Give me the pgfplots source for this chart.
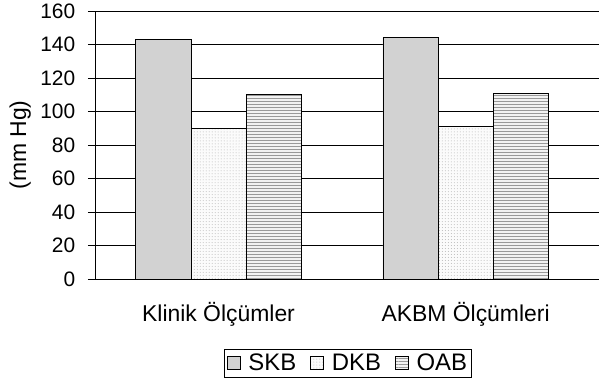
\documentclass[border=0pt]{standalone}
\usepackage{pgfplots}
\pgfplotsset{compat=1.18}
\usepackage{fontspec}
\setmainfont{Liberation Sans}
\usetikzlibrary{patterns}
\begin{document}
\fontsize{23}{27}\selectfont
\begin{tikzpicture}
\begin{axis}[
  scale only axis,
  width=504bp, height=268bp,
  ybar=0pt,
  bar width=0.223,
  xmin=-0.5, xmax=1.54,
  ymin=0, ymax=160,
  ytick={0,20,...,160},
  xtick={0,1},
  xticklabels={Klinik Ölçümler, AKBM Ölçümleri},
  major x tick style={draw=none},
  extra x ticks={-0.5,0.5},
  extra x tick labels={},
  extra x tick style={major tick length=7bp, tick align=outside, tick style={line width=0.9pt, black}},
  axis x line*=bottom,
  axis y line*=left,
  axis line style={line width=1pt, black},
  ymajorgrids,
  grid style={line width=0.9pt, black},
  tick align=outside,
  major tick length=7bp,
  ytick style={line width=0.9pt, black},
  yticklabel style={font=\fontsize{21}{25}\selectfont, xshift=-5bp},
  xticklabel style={font=\fontsize{23}{27}\selectfont, yshift=-8bp},
  /pgf/number format/assume math mode=true,
  ylabel={(mm Hg)},
  ylabel style={font=\fontsize{23}{27}\selectfont, yshift=-6bp},
  legend style={at={(0.502,-0.316)}, anchor=center, legend columns=3, draw=black, line width=0.8pt, font=\fontsize{24}{28}\selectfont, inner sep=2pt,
    /tikz/every odd column/.append style={column sep=6bp},
    /tikz/every even column/.append style={column sep=12bp}},
  legend image code/.code={\draw[#1, line width=0.6pt] (0bp,-6bp) rectangle (13bp,7bp);},
]
\addplot[draw=black, line width=0.9pt, fill=gray!35] coordinates {(0,143) (1,144)};
\addplot[draw=black, line width=0.9pt, fill=gray!3, postaction={pattern=dots, pattern color=gray!55}] coordinates {(0,90) (1,91.3)};
\addplot[draw=black, line width=0.9pt, fill=gray!10, postaction={pattern=horizontal lines, pattern color=gray!80}] coordinates {(0,110) (1,110.5)};
\legend{SKB, DKB, OAB}
\end{axis}
\pgfresetboundingbox
\path ([shift={(-95bp,-104bp)}]current axis.south west) rectangle ([shift={(0bp,11bp)}]current axis.north east);
\end{tikzpicture}
\end{document}
